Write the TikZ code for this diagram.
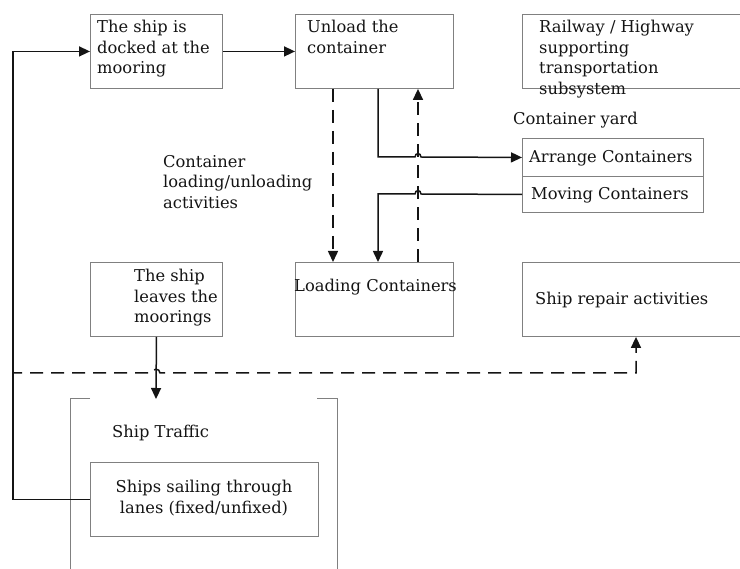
\documentclass[tikz,border=0pt]{standalone}
\usepackage{fontspec}
\setmainfont{DejaVu Serif}
\usetikzlibrary{arrows.meta}
\definecolor{boxgray}{HTML}{808080}
\definecolor{ink}{HTML}{141414}
\begin{document}
\begin{tikzpicture}[x=1pt,y=-1pt,
  box/.style={draw=boxgray, line width=0.9pt, anchor=north west, inner sep=0pt},
  txt/.style={anchor=north west, inner sep=0pt, align=left, text=ink,
              font=\fontsize{16.3}{20.6}\selectfont},
  conn/.style={line width=1.5pt, draw=ink},
  dconn/.style={conn, dash pattern=on 13pt off 8pt},
  arr/.style={-{Triangle[length=11pt,width=10pt]}},
  frame/.style={draw=boxgray, line width=0.9pt}
]
\useasboundingbox (0,0) rectangle (740,569);
\clip (0,0) rectangle (740,569);

% boxes
\node[box, minimum width=132pt, minimum height=74pt] (b1) at (90,14) {};
\node[box, minimum width=158pt, minimum height=74pt] (b2) at (295,14) {};
\node[box, minimum width=240pt, minimum height=74pt] (rail) at (522,14) {};
\node[box, minimum width=181pt, minimum height=38pt] (arrange) at (522,138) {};
\node[box, minimum width=181pt, minimum height=36pt] (moving) at (522,176) {};
\node[box, minimum width=158pt, minimum height=74pt] (load) at (295,262) {};
\node[box, minimum width=240pt, minimum height=74pt] (repair) at (522,262) {};
\node[box, minimum width=132pt, minimum height=74pt] (leaves) at (90,262) {};
\node[box, minimum width=228pt, minimum height=74pt] (sail) at (90,462) {};

% ship traffic frame
\draw[frame] (90,398) -- (70,398) -- (70,575);
\draw[frame] (317,398) -- (337,398) -- (337,575);

% texts
\node[txt] (t1) at (97,20) {The ship is\\docked at the\\mooring};
\node[txt] (t2) at (307,20) {Unload the\\container};
\node[txt] (t3) at (539,20) {Railway / Highway\\supporting\\transportation\\subsystem};
\node[txt] (tyard) at (513,112) {Container yard};
\node[txt] (tact) at (163,155) {Container\\loading/unloading\\activities};
\node[txt] (tarr) at (529,150) {Arrange Containers};
\node[txt] (tmov) at (531,187) {Moving Containers};
\node[txt] (tload) at (294,279) {Loading Containers};
\node[txt] (trep) at (535,292) {Ship repair activities};
\node[txt] (tleave) at (134,269) {The ship\\leaves the\\moorings};
\node[txt] (ttraf) at (112,425) {Ship Traffic};
\node[txt, anchor=north, align=center] (tsail) at (204,480) {Ships sailing through\\lanes (fixed/unfixed)};

% helper coordinates
\coordinate (Lx) at (13,0);
\coordinate (xd) at (333,0);
\coordinate (xu) at (418,0);
\coordinate (xs) at (378,0);
\coordinate (xr) at (636,0);
\coordinate (j1a) at (415,157);
\coordinate (j1b) at (421,157);
\coordinate (j2a) at (421,194);
\coordinate (j2b) at (415,194);
\coordinate (dl) at (13,373);
\coordinate (j3a) at (152,373);
\coordinate (j3b) at (160,373);
\coordinate (tt) at (156,399);

% connectors
\draw[conn, arr] (sail.west) -- (sail.west -| Lx) |- (b1.west);
\draw[conn, arr] (b1.east) -- (b2.west);
\draw[dconn, arr] (b2.south -| xd) -- (load.north -| xd);
\draw[dconn, arr] (load.north -| xu) -- (b2.south -| xu);
\draw[conn, arr] (b2.south -| xs) -- (xs |- j1a) -- (j1a)
   .. controls +(0,-4.5) and +(0,-4.5) .. (j1b) -- (arrange.west);
\draw[conn, arr] (moving.west) -- (j2a)
   .. controls +(0,-4.5) and +(0,-4.5) .. (j2b) -- (xs |- j2b) -- (load.north -| xs);
\draw[conn, arr] (leaves.south) -- (tt);
\draw[conn, dash pattern=on 13pt off 8pt, dash phase=4pt, arr] (dl) -- (j3a)
   .. controls +(0,-5) and +(0,-5) .. (j3b) -- (xr |- dl) -- (repair.south -| xr);
\end{tikzpicture}
\end{document}
